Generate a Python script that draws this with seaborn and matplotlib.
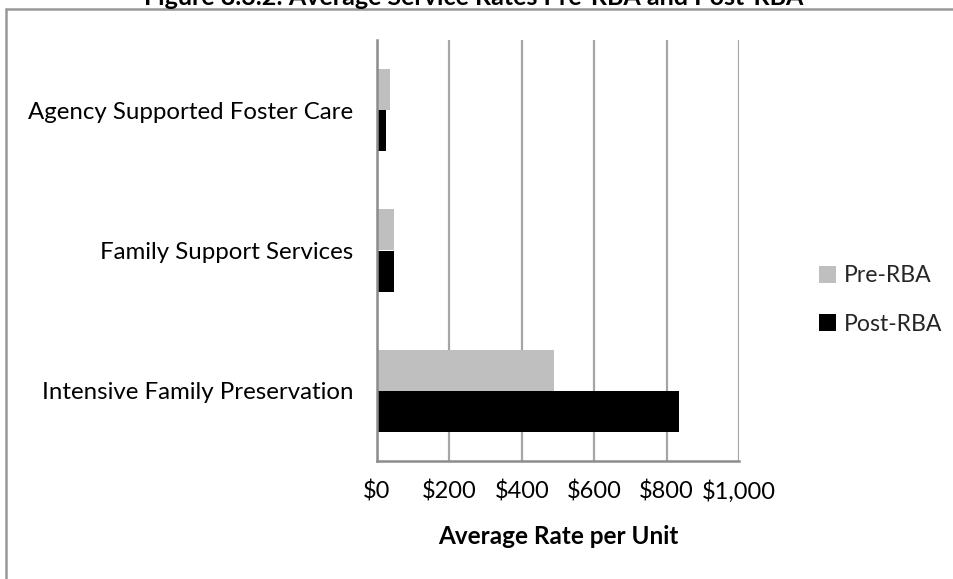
import matplotlib
matplotlib.use("Agg")
import matplotlib.pyplot as plt
from matplotlib.lines import Line2D
from matplotlib.patches import Patch
from matplotlib.ticker import FuncFormatter, FixedLocator
import seaborn as sns
import pandas as pd

categories = ["Agency Supported Foster Care", "Family Support Services", "Intensive Family Preservation"]
periods = ["Pre-RBA", "Post-RBA"]
pre_rba = [35, 48, 490]
post_rba = [24, 47, 835]
x_ticks = [0, 200, 400, 600, 800, 1000]

colors = {"Pre-RBA": "#bfbfbf", "Post-RBA": "#000000"}

df = pd.DataFrame({
    "Service": categories * 2,
    "Period": ["Pre-RBA"] * len(categories) + ["Post-RBA"] * len(categories),
    "Rate": pre_rba + post_rba,
})

sns.set_theme(style="white")
plt.rcParams["font.family"] = ["Lato", "DejaVu Sans"]

W, H = 954, 579
fig = plt.figure(figsize=(W / 100, H / 100), dpi=100)
ax = fig.add_axes([377 / W, 1 - 461 / H, (739 - 377) / W, (461 - 40) / H])

sns.barplot(data=df, y="Service", x="Rate", hue="Period", order=categories,
            hue_order=periods, palette=colors, width=0.585, orient="h",
            linewidth=0, ax=ax, legend=False)

ax.set_xlim(0, 1000)
ax.set_ylim(2.5, -0.5)
ax.xaxis.set_major_locator(FixedLocator(x_ticks))
ax.xaxis.set_major_formatter(FuncFormatter(lambda v, p: f"${v:,.0f}"))
ax.grid(axis="x", color="#a6a6a6", linewidth=1.6)
ax.set_axisbelow(True)

# category boundaries carry the y tick marks
ax.set_yticks([-0.5, 0.5, 1.5, 2.5], minor=True)
ax.tick_params(axis="y", which="major", length=0, pad=17, labelsize=17.3, colors="black")
ax.tick_params(axis="y", which="minor", length=7, width=1.6, color="#8c8c8c", direction="out")
ax.tick_params(axis="x", which="major", length=7, width=1.2, color="#a6a6a6",
               direction="out", pad=7, labelsize=17, labelcolor="black")

for side in ["top", "right"]:
    ax.spines[side].set_visible(False)
for side in ["left", "bottom"]:
    ax.spines[side].set_color("#8c8c8c")
    ax.spines[side].set_linewidth(1.8)

ax.set_ylabel("")
ax.set_xlabel("Average Rate per Unit", fontsize=17.5, fontweight="bold", labelpad=16, color="black")

handles = [Patch(facecolor=colors[p], edgecolor="none") for p in periods]
fig.legend(handles, periods, loc="center left", bbox_to_anchor=(798 / W, 1 - 300 / H),
           frameon=False, fontsize=16.6, handlelength=0.75, handleheight=0.75,
           handletextpad=0.35, labelspacing=1.2)

# outer chart frame
frame_kw = dict(color="#999999", linewidth=1.8, transform=fig.transFigure)
fig.add_artist(Line2D([6 / W, 6 / W], [0, 1 - 9 / H], **frame_kw))
fig.add_artist(Line2D([6 / W, 1.0], [1 - 9 / H, 1 - 9 / H], **frame_kw))

fig.text(474 / W, 1 - 5 / H, "Figure 8.3.2: Average Service Rates Pre-RBA and Post-RBA",
         ha="center", va="baseline", fontsize=18, fontweight="bold", color="black")

fig.savefig("out.png", dpi=100, facecolor="white")
